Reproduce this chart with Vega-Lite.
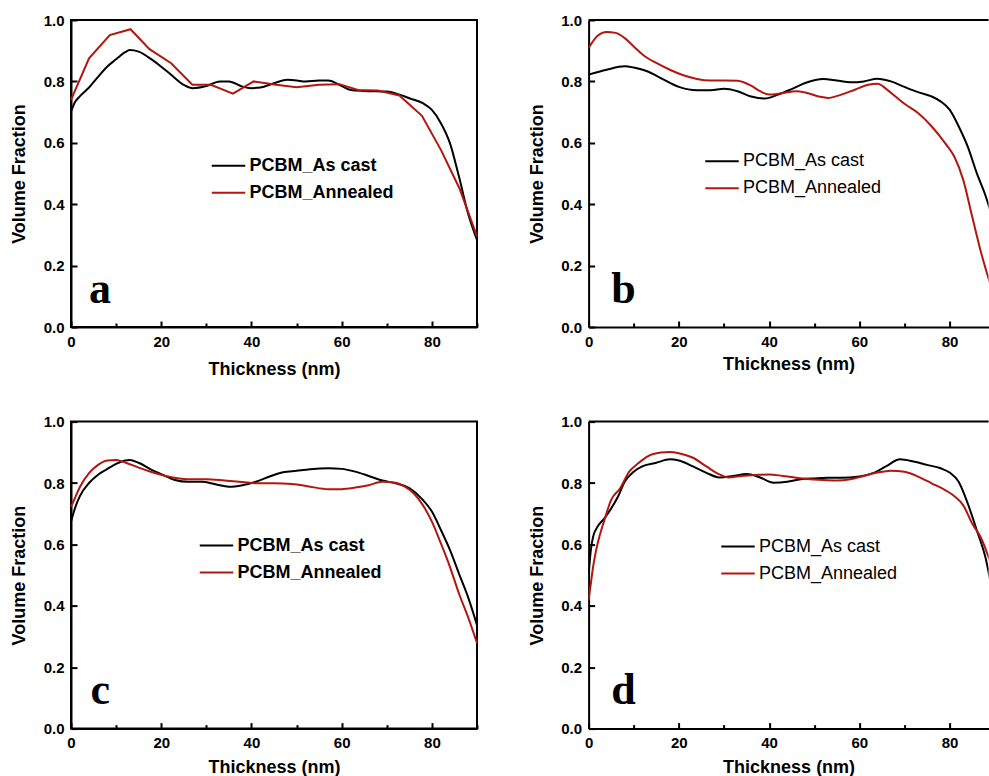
{
  "$schema": "https://vega.github.io/schema/vega-lite/v6.json",
  "padding": {"left": 9, "top": 12, "right": 0, "bottom": 0},
  "background": "white",
  "config": {
    "view": {"stroke": "black", "strokeWidth": 2},
    "font": "Liberation Sans",
    "axis": {"labelFont": "Liberation Sans", "labelFontWeight": "bold", "labelFontSize": 15, "labelColor": "black", "titleFont": "Liberation Sans", "titleFontWeight": "bold", "titleFontSize": 18, "titleColor": "black", "domainColor": "black", "domainWidth": 2, "tickColor": "black", "tickWidth": 2, "grid": false, "labelOverlap": false, "labelFlush": false},
    "line": {"strokeWidth": 2}
  },
  "datasets": {
    "a": [
      {"x": 0, "y": 0.702, "s": "PCBM_As cast"}, {"x": 1, "y": 0.735, "s": "PCBM_As cast"}, {"x": 2, "y": 0.752, "s": "PCBM_As cast"}, {"x": 4, "y": 0.78, "s": "PCBM_As cast"}, {"x": 6, "y": 0.815, "s": "PCBM_As cast"}, {"x": 8, "y": 0.848, "s": "PCBM_As cast"}, {"x": 10, "y": 0.872, "s": "PCBM_As cast"}, {"x": 12, "y": 0.895, "s": "PCBM_As cast"}, {"x": 13, "y": 0.902, "s": "PCBM_As cast"}, {"x": 15, "y": 0.897, "s": "PCBM_As cast"}, {"x": 18, "y": 0.87, "s": "PCBM_As cast"}, {"x": 20, "y": 0.848, "s": "PCBM_As cast"}, {"x": 22, "y": 0.824, "s": "PCBM_As cast"}, {"x": 25, "y": 0.789, "s": "PCBM_As cast"}, {"x": 27, "y": 0.778, "s": "PCBM_As cast"}, {"x": 30, "y": 0.785, "s": "PCBM_As cast"}, {"x": 33, "y": 0.8, "s": "PCBM_As cast"}, {"x": 35, "y": 0.8, "s": "PCBM_As cast"}, {"x": 38, "y": 0.783, "s": "PCBM_As cast"}, {"x": 40, "y": 0.778, "s": "PCBM_As cast"}, {"x": 42, "y": 0.78, "s": "PCBM_As cast"}, {"x": 45, "y": 0.794, "s": "PCBM_As cast"}, {"x": 48, "y": 0.805, "s": "PCBM_As cast"}, {"x": 50, "y": 0.803, "s": "PCBM_As cast"}, {"x": 52, "y": 0.8, "s": "PCBM_As cast"}, {"x": 55, "y": 0.803, "s": "PCBM_As cast"}, {"x": 57, "y": 0.803, "s": "PCBM_As cast"}, {"x": 60, "y": 0.785, "s": "PCBM_As cast"}, {"x": 62, "y": 0.772, "s": "PCBM_As cast"}, {"x": 65, "y": 0.769, "s": "PCBM_As cast"}, {"x": 70, "y": 0.767, "s": "PCBM_As cast"}, {"x": 73, "y": 0.756, "s": "PCBM_As cast"}, {"x": 75, "y": 0.745, "s": "PCBM_As cast"}, {"x": 78, "y": 0.729, "s": "PCBM_As cast"}, {"x": 80, "y": 0.707, "s": "PCBM_As cast"}, {"x": 82, "y": 0.664, "s": "PCBM_As cast"}, {"x": 84, "y": 0.599, "s": "PCBM_As cast"}, {"x": 86, "y": 0.49, "s": "PCBM_As cast"}, {"x": 88, "y": 0.371, "s": "PCBM_As cast"}, {"x": 90, "y": 0.284, "s": "PCBM_As cast"},
      {"x": 0, "y": 0.74, "s": "PCBM_Annealed"}, {"x": 4, "y": 0.875, "s": "PCBM_Annealed"}, {"x": 8.6, "y": 0.951, "s": "PCBM_Annealed"}, {"x": 13.2, "y": 0.97, "s": "PCBM_Annealed"}, {"x": 17.4, "y": 0.905, "s": "PCBM_Annealed"}, {"x": 22.2, "y": 0.859, "s": "PCBM_Annealed"}, {"x": 26.9, "y": 0.789, "s": "PCBM_Annealed"}, {"x": 31, "y": 0.789, "s": "PCBM_Annealed"}, {"x": 35.9, "y": 0.76, "s": "PCBM_Annealed"}, {"x": 40.5, "y": 0.8, "s": "PCBM_Annealed"}, {"x": 45.5, "y": 0.789, "s": "PCBM_Annealed"}, {"x": 50, "y": 0.781, "s": "PCBM_Annealed"}, {"x": 55, "y": 0.789, "s": "PCBM_Annealed"}, {"x": 59.5, "y": 0.791, "s": "PCBM_Annealed"}, {"x": 63.6, "y": 0.772, "s": "PCBM_Annealed"}, {"x": 68, "y": 0.77, "s": "PCBM_Annealed"}, {"x": 72.8, "y": 0.754, "s": "PCBM_Annealed"}, {"x": 77.8, "y": 0.688, "s": "PCBM_Annealed"}, {"x": 82, "y": 0.577, "s": "PCBM_Annealed"}, {"x": 86.1, "y": 0.452, "s": "PCBM_Annealed"}, {"x": 90, "y": 0.295, "s": "PCBM_Annealed"}
    ],
    "b": [
      {"x": 0, "y": 0.822, "s": "PCBM_As cast"}, {"x": 4, "y": 0.838, "s": "PCBM_As cast"}, {"x": 8, "y": 0.849, "s": "PCBM_As cast"}, {"x": 10, "y": 0.845, "s": "PCBM_As cast"}, {"x": 13, "y": 0.833, "s": "PCBM_As cast"}, {"x": 16, "y": 0.811, "s": "PCBM_As cast"}, {"x": 20, "y": 0.782, "s": "PCBM_As cast"}, {"x": 24, "y": 0.771, "s": "PCBM_As cast"}, {"x": 27, "y": 0.771, "s": "PCBM_As cast"}, {"x": 30, "y": 0.776, "s": "PCBM_As cast"}, {"x": 33, "y": 0.768, "s": "PCBM_As cast"}, {"x": 36, "y": 0.751, "s": "PCBM_As cast"}, {"x": 39, "y": 0.744, "s": "PCBM_As cast"}, {"x": 42, "y": 0.757, "s": "PCBM_As cast"}, {"x": 45, "y": 0.775, "s": "PCBM_As cast"}, {"x": 48, "y": 0.795, "s": "PCBM_As cast"}, {"x": 52, "y": 0.808, "s": "PCBM_As cast"}, {"x": 55, "y": 0.803, "s": "PCBM_As cast"}, {"x": 58, "y": 0.797, "s": "PCBM_As cast"}, {"x": 61, "y": 0.8, "s": "PCBM_As cast"}, {"x": 64, "y": 0.809, "s": "PCBM_As cast"}, {"x": 67, "y": 0.8, "s": "PCBM_As cast"}, {"x": 70, "y": 0.782, "s": "PCBM_As cast"}, {"x": 73, "y": 0.765, "s": "PCBM_As cast"}, {"x": 76, "y": 0.751, "s": "PCBM_As cast"}, {"x": 78, "y": 0.735, "s": "PCBM_As cast"}, {"x": 80, "y": 0.708, "s": "PCBM_As cast"}, {"x": 82, "y": 0.654, "s": "PCBM_As cast"}, {"x": 84, "y": 0.588, "s": "PCBM_As cast"}, {"x": 86, "y": 0.502, "s": "PCBM_As cast"}, {"x": 88, "y": 0.426, "s": "PCBM_As cast"}, {"x": 90, "y": 0.33, "s": "PCBM_As cast"},
      {"x": 0, "y": 0.909, "s": "PCBM_Annealed"}, {"x": 2, "y": 0.949, "s": "PCBM_Annealed"}, {"x": 4, "y": 0.961, "s": "PCBM_Annealed"}, {"x": 6, "y": 0.958, "s": "PCBM_Annealed"}, {"x": 8, "y": 0.941, "s": "PCBM_Annealed"}, {"x": 10, "y": 0.914, "s": "PCBM_Annealed"}, {"x": 12, "y": 0.887, "s": "PCBM_Annealed"}, {"x": 15, "y": 0.86, "s": "PCBM_Annealed"}, {"x": 18, "y": 0.838, "s": "PCBM_Annealed"}, {"x": 21, "y": 0.82, "s": "PCBM_Annealed"}, {"x": 24, "y": 0.808, "s": "PCBM_Annealed"}, {"x": 27, "y": 0.803, "s": "PCBM_Annealed"}, {"x": 30, "y": 0.803, "s": "PCBM_Annealed"}, {"x": 33, "y": 0.802, "s": "PCBM_Annealed"}, {"x": 36, "y": 0.786, "s": "PCBM_Annealed"}, {"x": 38, "y": 0.768, "s": "PCBM_Annealed"}, {"x": 40, "y": 0.757, "s": "PCBM_Annealed"}, {"x": 43, "y": 0.762, "s": "PCBM_Annealed"}, {"x": 46, "y": 0.768, "s": "PCBM_Annealed"}, {"x": 48, "y": 0.764, "s": "PCBM_Annealed"}, {"x": 51, "y": 0.751, "s": "PCBM_Annealed"}, {"x": 53, "y": 0.746, "s": "PCBM_Annealed"}, {"x": 56, "y": 0.757, "s": "PCBM_Annealed"}, {"x": 59, "y": 0.773, "s": "PCBM_Annealed"}, {"x": 62, "y": 0.789, "s": "PCBM_Annealed"}, {"x": 64, "y": 0.792, "s": "PCBM_Annealed"}, {"x": 66, "y": 0.775, "s": "PCBM_Annealed"}, {"x": 68, "y": 0.751, "s": "PCBM_Annealed"}, {"x": 70, "y": 0.727, "s": "PCBM_Annealed"}, {"x": 73, "y": 0.697, "s": "PCBM_Annealed"}, {"x": 76, "y": 0.654, "s": "PCBM_Annealed"}, {"x": 79, "y": 0.599, "s": "PCBM_Annealed"}, {"x": 81, "y": 0.556, "s": "PCBM_Annealed"}, {"x": 83, "y": 0.48, "s": "PCBM_Annealed"}, {"x": 85, "y": 0.36, "s": "PCBM_Annealed"}, {"x": 87, "y": 0.241, "s": "PCBM_Annealed"}, {"x": 88.6, "y": 0.16, "s": "PCBM_Annealed"}, {"x": 90, "y": 0.1, "s": "PCBM_Annealed"}
    ],
    "c": [
      {"x": 0, "y": 0.674, "s": "PCBM_As cast"}, {"x": 1, "y": 0.723, "s": "PCBM_As cast"}, {"x": 2, "y": 0.758, "s": "PCBM_As cast"}, {"x": 4, "y": 0.8, "s": "PCBM_As cast"}, {"x": 6, "y": 0.827, "s": "PCBM_As cast"}, {"x": 8, "y": 0.845, "s": "PCBM_As cast"}, {"x": 10, "y": 0.862, "s": "PCBM_As cast"}, {"x": 12, "y": 0.873, "s": "PCBM_As cast"}, {"x": 13, "y": 0.875, "s": "PCBM_As cast"}, {"x": 15, "y": 0.866, "s": "PCBM_As cast"}, {"x": 18, "y": 0.842, "s": "PCBM_As cast"}, {"x": 20, "y": 0.829, "s": "PCBM_As cast"}, {"x": 23, "y": 0.81, "s": "PCBM_As cast"}, {"x": 26, "y": 0.804, "s": "PCBM_As cast"}, {"x": 29, "y": 0.804, "s": "PCBM_As cast"}, {"x": 32, "y": 0.796, "s": "PCBM_As cast"}, {"x": 35, "y": 0.788, "s": "PCBM_As cast"}, {"x": 38, "y": 0.793, "s": "PCBM_As cast"}, {"x": 41, "y": 0.804, "s": "PCBM_As cast"}, {"x": 44, "y": 0.821, "s": "PCBM_As cast"}, {"x": 47, "y": 0.835, "s": "PCBM_As cast"}, {"x": 50, "y": 0.84, "s": "PCBM_As cast"}, {"x": 53, "y": 0.845, "s": "PCBM_As cast"}, {"x": 57, "y": 0.848, "s": "PCBM_As cast"}, {"x": 60, "y": 0.846, "s": "PCBM_As cast"}, {"x": 63, "y": 0.837, "s": "PCBM_As cast"}, {"x": 66, "y": 0.823, "s": "PCBM_As cast"}, {"x": 69, "y": 0.808, "s": "PCBM_As cast"}, {"x": 72, "y": 0.799, "s": "PCBM_As cast"}, {"x": 75, "y": 0.783, "s": "PCBM_As cast"}, {"x": 78, "y": 0.745, "s": "PCBM_As cast"}, {"x": 80, "y": 0.707, "s": "PCBM_As cast"}, {"x": 82, "y": 0.647, "s": "PCBM_As cast"}, {"x": 84, "y": 0.582, "s": "PCBM_As cast"}, {"x": 86, "y": 0.505, "s": "PCBM_As cast"}, {"x": 88, "y": 0.429, "s": "PCBM_As cast"}, {"x": 90, "y": 0.337, "s": "PCBM_As cast"},
      {"x": 0, "y": 0.723, "s": "PCBM_Annealed"}, {"x": 1, "y": 0.755, "s": "PCBM_Annealed"}, {"x": 2, "y": 0.788, "s": "PCBM_Annealed"}, {"x": 4, "y": 0.832, "s": "PCBM_Annealed"}, {"x": 6, "y": 0.859, "s": "PCBM_Annealed"}, {"x": 8, "y": 0.873, "s": "PCBM_Annealed"}, {"x": 10, "y": 0.875, "s": "PCBM_Annealed"}, {"x": 12, "y": 0.867, "s": "PCBM_Annealed"}, {"x": 15, "y": 0.85, "s": "PCBM_Annealed"}, {"x": 18, "y": 0.835, "s": "PCBM_Annealed"}, {"x": 21, "y": 0.823, "s": "PCBM_Annealed"}, {"x": 24, "y": 0.815, "s": "PCBM_Annealed"}, {"x": 27, "y": 0.812, "s": "PCBM_Annealed"}, {"x": 30, "y": 0.812, "s": "PCBM_Annealed"}, {"x": 34, "y": 0.808, "s": "PCBM_Annealed"}, {"x": 38, "y": 0.803, "s": "PCBM_Annealed"}, {"x": 41, "y": 0.799, "s": "PCBM_Annealed"}, {"x": 45, "y": 0.799, "s": "PCBM_Annealed"}, {"x": 49, "y": 0.797, "s": "PCBM_Annealed"}, {"x": 53, "y": 0.788, "s": "PCBM_Annealed"}, {"x": 57, "y": 0.78, "s": "PCBM_Annealed"}, {"x": 60, "y": 0.78, "s": "PCBM_Annealed"}, {"x": 63, "y": 0.785, "s": "PCBM_Annealed"}, {"x": 66, "y": 0.793, "s": "PCBM_Annealed"}, {"x": 69, "y": 0.804, "s": "PCBM_Annealed"}, {"x": 72, "y": 0.801, "s": "PCBM_Annealed"}, {"x": 74, "y": 0.788, "s": "PCBM_Annealed"}, {"x": 76, "y": 0.766, "s": "PCBM_Annealed"}, {"x": 78, "y": 0.728, "s": "PCBM_Annealed"}, {"x": 80, "y": 0.674, "s": "PCBM_Annealed"}, {"x": 82, "y": 0.603, "s": "PCBM_Annealed"}, {"x": 84, "y": 0.527, "s": "PCBM_Annealed"}, {"x": 86, "y": 0.44, "s": "PCBM_Annealed"}, {"x": 88, "y": 0.364, "s": "PCBM_Annealed"}, {"x": 90, "y": 0.279, "s": "PCBM_Annealed"}
    ],
    "d": [
      {"x": 0, "y": 0.5, "s": "PCBM_As cast"}, {"x": 0.5, "y": 0.582, "s": "PCBM_As cast"}, {"x": 1, "y": 0.625, "s": "PCBM_As cast"}, {"x": 2, "y": 0.658, "s": "PCBM_As cast"}, {"x": 3.5, "y": 0.685, "s": "PCBM_As cast"}, {"x": 5, "y": 0.717, "s": "PCBM_As cast"}, {"x": 6.5, "y": 0.755, "s": "PCBM_As cast"}, {"x": 8, "y": 0.804, "s": "PCBM_As cast"}, {"x": 10, "y": 0.837, "s": "PCBM_As cast"}, {"x": 12, "y": 0.855, "s": "PCBM_As cast"}, {"x": 15, "y": 0.866, "s": "PCBM_As cast"}, {"x": 18, "y": 0.877, "s": "PCBM_As cast"}, {"x": 20, "y": 0.873, "s": "PCBM_As cast"}, {"x": 23, "y": 0.855, "s": "PCBM_As cast"}, {"x": 26, "y": 0.834, "s": "PCBM_As cast"}, {"x": 29, "y": 0.818, "s": "PCBM_As cast"}, {"x": 32, "y": 0.823, "s": "PCBM_As cast"}, {"x": 35, "y": 0.829, "s": "PCBM_As cast"}, {"x": 38, "y": 0.818, "s": "PCBM_As cast"}, {"x": 41, "y": 0.801, "s": "PCBM_As cast"}, {"x": 44, "y": 0.804, "s": "PCBM_As cast"}, {"x": 47, "y": 0.812, "s": "PCBM_As cast"}, {"x": 50, "y": 0.815, "s": "PCBM_As cast"}, {"x": 53, "y": 0.817, "s": "PCBM_As cast"}, {"x": 56, "y": 0.817, "s": "PCBM_As cast"}, {"x": 60, "y": 0.821, "s": "PCBM_As cast"}, {"x": 63, "y": 0.832, "s": "PCBM_As cast"}, {"x": 66, "y": 0.855, "s": "PCBM_As cast"}, {"x": 69, "y": 0.877, "s": "PCBM_As cast"}, {"x": 72, "y": 0.87, "s": "PCBM_As cast"}, {"x": 75, "y": 0.859, "s": "PCBM_As cast"}, {"x": 78, "y": 0.848, "s": "PCBM_As cast"}, {"x": 80, "y": 0.834, "s": "PCBM_As cast"}, {"x": 82, "y": 0.804, "s": "PCBM_As cast"}, {"x": 84, "y": 0.734, "s": "PCBM_As cast"}, {"x": 86, "y": 0.647, "s": "PCBM_As cast"}, {"x": 88, "y": 0.554, "s": "PCBM_As cast"}, {"x": 90, "y": 0.4, "s": "PCBM_As cast"},
      {"x": 0, "y": 0.418, "s": "PCBM_Annealed"}, {"x": 0.5, "y": 0.473, "s": "PCBM_Annealed"}, {"x": 1, "y": 0.527, "s": "PCBM_Annealed"}, {"x": 2, "y": 0.603, "s": "PCBM_Annealed"}, {"x": 3.5, "y": 0.679, "s": "PCBM_Annealed"}, {"x": 5, "y": 0.745, "s": "PCBM_Annealed"}, {"x": 7, "y": 0.783, "s": "PCBM_Annealed"}, {"x": 9, "y": 0.837, "s": "PCBM_Annealed"}, {"x": 11, "y": 0.864, "s": "PCBM_Annealed"}, {"x": 13, "y": 0.886, "s": "PCBM_Annealed"}, {"x": 16, "y": 0.899, "s": "PCBM_Annealed"}, {"x": 18, "y": 0.901, "s": "PCBM_Annealed"}, {"x": 20, "y": 0.897, "s": "PCBM_Annealed"}, {"x": 23, "y": 0.883, "s": "PCBM_Annealed"}, {"x": 26, "y": 0.855, "s": "PCBM_Annealed"}, {"x": 29, "y": 0.828, "s": "PCBM_Annealed"}, {"x": 31, "y": 0.818, "s": "PCBM_Annealed"}, {"x": 34, "y": 0.823, "s": "PCBM_Annealed"}, {"x": 37, "y": 0.826, "s": "PCBM_Annealed"}, {"x": 40, "y": 0.828, "s": "PCBM_Annealed"}, {"x": 43, "y": 0.823, "s": "PCBM_Annealed"}, {"x": 46, "y": 0.817, "s": "PCBM_Annealed"}, {"x": 49, "y": 0.812, "s": "PCBM_Annealed"}, {"x": 52, "y": 0.81, "s": "PCBM_Annealed"}, {"x": 55, "y": 0.808, "s": "PCBM_Annealed"}, {"x": 58, "y": 0.812, "s": "PCBM_Annealed"}, {"x": 61, "y": 0.823, "s": "PCBM_Annealed"}, {"x": 64, "y": 0.834, "s": "PCBM_Annealed"}, {"x": 67, "y": 0.84, "s": "PCBM_Annealed"}, {"x": 70, "y": 0.837, "s": "PCBM_Annealed"}, {"x": 73, "y": 0.821, "s": "PCBM_Annealed"}, {"x": 76, "y": 0.799, "s": "PCBM_Annealed"}, {"x": 79, "y": 0.777, "s": "PCBM_Annealed"}, {"x": 81, "y": 0.758, "s": "PCBM_Annealed"}, {"x": 83, "y": 0.728, "s": "PCBM_Annealed"}, {"x": 85, "y": 0.668, "s": "PCBM_Annealed"}, {"x": 87, "y": 0.62, "s": "PCBM_Annealed"}, {"x": 88.6, "y": 0.56, "s": "PCBM_Annealed"}, {"x": 90, "y": 0.5, "s": "PCBM_Annealed"}
    ]
  },
  "resolve": {"scale": {"color": "independent"}, "legend": {"color": "independent"}},
  "columns": 2,
  "spacing": {"row": 94.6, "column": 111.6},
  "bounds": "flush",
  "concat": [
    {
      "width": 406, "height": 307,
      "data": {"name": "a"},
      "layer": [
        {
          "transform": [{"filter": "datum.s == 'PCBM_As cast'"}],
          "mark": {"type": "line", "interpolate": "monotone", "strokeWidth": 2},
          "encoding": {
            "x": {"field": "x", "type": "quantitative", "scale": {"domain": [0, 90], "nice": false}, "axis": {"title": "Thickness (nm)", "values": [0, 10, 20, 30, 40, 50, 60, 70, 80, 90], "labelExpr": "datum.value % 20 == 0 ? datum.label : ''", "tickSize": {"condition": {"test": "datum.value % 20 != 0", "value": -4}, "value": -6}, "labelPadding": 13, "titlePadding": 9}},
            "y": {"field": "y", "type": "quantitative", "scale": {"domain": [0, 1], "nice": false}, "axis": {"title": "Volume Fraction", "values": [0, 0.1, 0.2, 0.3, 0.4, 0.5, 0.6, 0.7, 0.8, 0.9, 1.0], "format": ".1f", "labelExpr": "round(datum.value * 10) % 2 == 0 ? datum.label : ''", "tickSize": {"condition": {"test": "round(datum.value * 10) % 2 != 0", "value": -4}, "value": -6}, "labelPadding": 13, "titlePadding": 14.5}},
            "color": {"field": "s", "type": "nominal", "scale": {"domain": ["PCBM_As cast", "PCBM_Annealed"], "range": ["#000000", "#b3160e"]}, "legend": {"title": null, "orient": "none", "legendX": 139.5, "legendY": 127.7, "symbolType": "stroke", "symbolSize": 1122, "symbolStrokeWidth": 2, "labelFontSize": 18, "labelFontWeight": "bold", "labelFont": "Liberation Sans", "labelColor": "black", "rowPadding": -12.7, "padding": 0, "labelOffset": 3, "labelLimit": 0}}
          }
        },
        {
          "transform": [{"filter": "datum.s == 'PCBM_Annealed'"}],
          "mark": {"type": "line", "interpolate": "linear", "strokeWidth": 2},
          "encoding": {
            "x": {"field": "x", "type": "quantitative"},
            "y": {"field": "y", "type": "quantitative"},
            "color": {"field": "s", "type": "nominal"}
          }
        },
        {
          "data": {"values": [{"label": "a"}]},
          "mark": {"type": "text", "font": "Liberation Serif", "fontWeight": "bold", "fontSize": 44, "align": "left", "baseline": "alphabetic", "color": "black"},
          "encoding": {"x": {"datum": 4.0}, "y": {"datum": 0.079}, "text": {"field": "label"}}
        }
      ]
    },
    {
      "width": 400, "height": 307,
      "view": {"stroke": null},
      "data": {"name": "b"},
      "layer": [
        {
          "mark": {"type": "line", "interpolate": "monotone", "strokeWidth": 2, "clip": true},
          "encoding": {
            "x": {"field": "x", "type": "quantitative", "scale": {"domain": [0, 88.64], "nice": false}, "axis": {"title": "Thickness (nm)", "values": [0, 10, 20, 30, 40, 50, 60, 70, 80], "labelExpr": "datum.value % 20 == 0 ? datum.label : ''", "tickSize": {"condition": {"test": "datum.value % 20 != 0", "value": -4}, "value": -6}, "labelPadding": 13, "titlePadding": 4}},
            "y": {"field": "y", "type": "quantitative", "scale": {"domain": [0, 1], "nice": false}, "axis": {"title": "Volume Fraction", "values": [0, 0.1, 0.2, 0.3, 0.4, 0.5, 0.6, 0.7, 0.8, 0.9, 1.0], "format": ".1f", "labelExpr": "round(datum.value * 10) % 2 == 0 ? datum.label : ''", "tickSize": {"condition": {"test": "round(datum.value * 10) % 2 != 0", "value": -4}, "value": -6}, "labelPadding": 13, "titlePadding": 14.5}},
            "color": {"field": "s", "type": "nominal", "scale": {"domain": ["PCBM_As cast", "PCBM_Annealed"], "range": ["#000000", "#b3160e"]}, "legend": {"title": null, "orient": "none", "legendX": 115.4, "legendY": 123.3, "symbolType": "stroke", "symbolSize": 1122, "symbolStrokeWidth": 2, "labelFontSize": 18, "labelFontWeight": "normal", "labelFont": "Liberation Sans", "labelColor": "black", "rowPadding": -13, "padding": 0, "labelOffset": 3, "labelLimit": 0}}
          }
        },
        {
          "data": {"values": [{"edge": 1}]},
          "mark": {"type": "rule", "color": "black", "strokeWidth": 2},
          "encoding": {"y": {"field": "edge", "type": "quantitative"}}
        },
        {
          "data": {"values": [{"label": "b"}]},
          "mark": {"type": "text", "font": "Liberation Serif", "fontWeight": "bold", "fontSize": 44, "align": "left", "baseline": "alphabetic", "color": "black"},
          "encoding": {"x": {"datum": 5.0}, "y": {"datum": 0.078}, "text": {"field": "label"}}
        }
      ]
    },
    {
      "width": 406, "height": 307,
      "data": {"name": "c"},
      "layer": [
        {
          "mark": {"type": "line", "interpolate": "monotone", "strokeWidth": 2},
          "encoding": {
            "x": {"field": "x", "type": "quantitative", "scale": {"domain": [0, 90], "nice": false}, "axis": {"title": "Thickness (nm)", "values": [0, 10, 20, 30, 40, 50, 60, 70, 80, 90], "labelExpr": "datum.value % 20 == 0 ? datum.label : ''", "tickSize": {"condition": {"test": "datum.value % 20 != 0", "value": -4}, "value": -6}, "labelPadding": 13, "titlePadding": 6}},
            "y": {"field": "y", "type": "quantitative", "scale": {"domain": [0, 1], "nice": false}, "axis": {"title": "Volume Fraction", "values": [0, 0.1, 0.2, 0.3, 0.4, 0.5, 0.6, 0.7, 0.8, 0.9, 1.0], "format": ".1f", "labelExpr": "round(datum.value * 10) % 2 == 0 ? datum.label : ''", "tickSize": {"condition": {"test": "round(datum.value * 10) % 2 != 0", "value": -4}, "value": -6}, "labelPadding": 13, "titlePadding": 14.5}},
            "color": {"field": "s", "type": "nominal", "scale": {"domain": ["PCBM_As cast", "PCBM_Annealed"], "range": ["#000000", "#b3160e"]}, "legend": {"title": null, "orient": "none", "legendX": 127.5, "legendY": 106, "symbolType": "stroke", "symbolSize": 1122, "symbolStrokeWidth": 2, "labelFontSize": 18, "labelFontWeight": "bold", "labelFont": "Liberation Sans", "labelColor": "black", "rowPadding": -11.7, "padding": 0, "labelOffset": 3, "labelLimit": 0}}
          }
        },
        {
          "data": {"values": [{"label": "c"}]},
          "mark": {"type": "text", "font": "Liberation Serif", "fontWeight": "bold", "fontSize": 44, "align": "left", "baseline": "alphabetic", "color": "black"},
          "encoding": {"x": {"datum": 4.3}, "y": {"datum": 0.0815}, "text": {"field": "label"}}
        }
      ]
    },
    {
      "width": 400, "height": 307,
      "view": {"stroke": null},
      "data": {"name": "d"},
      "layer": [
        {
          "mark": {"type": "line", "interpolate": "monotone", "strokeWidth": 2, "clip": true},
          "encoding": {
            "x": {"field": "x", "type": "quantitative", "scale": {"domain": [0, 88.64], "nice": false}, "axis": {"title": "Thickness (nm)", "values": [0, 10, 20, 30, 40, 50, 60, 70, 80], "labelExpr": "datum.value % 20 == 0 ? datum.label : ''", "tickSize": {"condition": {"test": "datum.value % 20 != 0", "value": -4}, "value": -6}, "labelPadding": 13, "titlePadding": 6}},
            "y": {"field": "y", "type": "quantitative", "scale": {"domain": [0, 1], "nice": false}, "axis": {"title": "Volume Fraction", "values": [0, 0.1, 0.2, 0.3, 0.4, 0.5, 0.6, 0.7, 0.8, 0.9, 1.0], "format": ".1f", "labelExpr": "round(datum.value * 10) % 2 == 0 ? datum.label : ''", "tickSize": {"condition": {"test": "round(datum.value * 10) % 2 != 0", "value": -4}, "value": -6}, "labelPadding": 13, "titlePadding": 14.5}},
            "color": {"field": "s", "type": "nominal", "scale": {"domain": ["PCBM_As cast", "PCBM_Annealed"], "range": ["#000000", "#b3160e"]}, "legend": {"title": null, "orient": "none", "legendX": 131.4, "legendY": 107, "symbolType": "stroke", "symbolSize": 1122, "symbolStrokeWidth": 2, "labelFontSize": 18, "labelFontWeight": "normal", "labelFont": "Liberation Sans", "labelColor": "black", "rowPadding": -11.7, "padding": 0, "labelOffset": 3, "labelLimit": 0}}
          }
        },
        {
          "data": {"values": [{"edge": 1}]},
          "mark": {"type": "rule", "color": "black", "strokeWidth": 2},
          "encoding": {"y": {"field": "edge", "type": "quantitative"}}
        },
        {
          "data": {"values": [{"label": "d"}]},
          "mark": {"type": "text", "font": "Liberation Serif", "fontWeight": "bold", "fontSize": 44, "align": "left", "baseline": "alphabetic", "color": "black"},
          "encoding": {"x": {"datum": 5.0}, "y": {"datum": 0.0815}, "text": {"field": "label"}}
        }
      ]
    }
  ]
}
